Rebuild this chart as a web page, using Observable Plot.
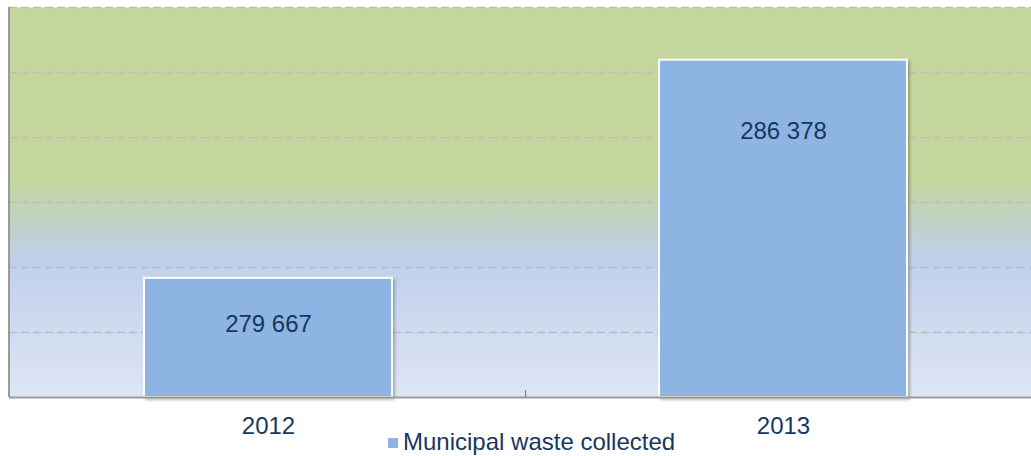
<!DOCTYPE html>
<html>
<head>
<meta charset="utf-8">
<script src="https://cdn.jsdelivr.net/npm/d3@7"></script>
<script src="https://cdn.jsdelivr.net/npm/@observablehq/plot@0.6"></script>
<style>
  html, body { margin: 0; padding: 0; background: #fff; }
  #wrap { position: relative; width: 1031px; height: 456px; overflow: hidden; }
  #legend .sw { position: absolute; left: 388px; top: 438px; width: 10px; height: 10px; background: #8eb4e3; }
  #legend .tx { position: absolute; left: 403px; top: 430px; font: 24px/24px "Liberation Sans", Arial, sans-serif; color: #17375e; white-space: nowrap; }
</style>
</head>
<body>
<div id="wrap"><div id="legend"><span class="sw"></span><span class="tx" id="legendText"></span></div></div>
<script>
const years = ["2012", "2013"];
const values = [279667, 286378];
const seriesName = "Municipal waste collected";
const yTicks = [278000, 280000, 282000, 284000, 286000, 288000];
const yDomain = [276000, 288000];
const labelOffsets = [46, 71];

document.getElementById("legendText").textContent = seriesName;

const data = years.map((y, i) => ({year: y, value: values[i], base: yDomain[0], off: labelOffsets[i]}));
const fmt = v => d3.format(",")(v).replace(/,/g, " ");

const chart = Plot.plot({
  width: 1031,
  height: 456,
  marginLeft: 9,
  marginTop: 7,
  marginBottom: 59,
  marginRight: 0,
  style: {fontFamily: "'Liberation Sans', Arial, sans-serif", background: "transparent", overflow: "visible"},
  x: {domain: years, range: [9, 1041], paddingInner: 0.519, paddingOuter: 0.26, align: 0.5, label: null, axis: null},
  y: {domain: yDomain, label: null, axis: null},
  marks: [
    Plot.frame({fill: "url(#bgGrad)", stroke: null}),
    Plot.gridY(yTicks, {stroke: "#bdbdbd", strokeOpacity: 1, strokeWidth: 1.3, strokeDasharray: "8,4"}),
    Plot.barY(data, {x: "year", y1: "base", y2: "value", fill: "#8eb4e3", stroke: "white", strokeWidth: 2}),
    Plot.ruleY([yDomain[0]], {stroke: "#9a9a9a", strokeWidth: 2}),
    ...data.map(d => Plot.text([d], {x: "year", y: "value", text: dd => fmt(dd.value), dy: d.off, fill: "#17375e", fontSize: 24})),
    Plot.text(data, {x: "year", y: yDomain[0], text: "year", dy: 28.5, fill: "#17375e", fontSize: 24})
  ]
});

const ns = "http://www.w3.org/2000/svg";
const defs = document.createElementNS(ns, "defs");
defs.innerHTML = `<linearGradient id="bgGrad" x1="0" y1="0" x2="0" y2="1">
  <stop offset="0" stop-color="#c4d69d"/>
  <stop offset="0.44" stop-color="#c4d69d"/>
  <stop offset="0.65" stop-color="#bfcfec"/>
  <stop offset="1" stop-color="#dee6f3"/>
</linearGradient>
<filter id="sh" x="-5%" y="-5%" width="115%" height="115%"><feDropShadow dx="2" dy="2" stdDeviation="1.5" flood-color="#000" flood-opacity="0.25"/></filter>`;
chart.insertBefore(defs, chart.firstChild);

const xs = chart.scale("x"), ys = chart.scale("y");
const g = document.createElementNS(ns, "g");
const y0 = ys.apply(yDomain[0]), y1 = ys.apply(yDomain[1]);
const left = 9;
const step = xs.apply(years[1]) - xs.apply(years[0]);
const mid = xs.apply(years[1]) + xs.bandwidth / 2 - step / 2;
g.innerHTML = `<line x1="${left}" x2="${left}" y1="${y1}" y2="${y0}" stroke="#9a9a9a" stroke-width="2"/>
<line x1="${mid}" x2="${mid}" y1="${y0 - 7}" y2="${y0}" stroke="#8a8a8a" stroke-width="1.3"/>`;
chart.appendChild(g);

chart.querySelectorAll("g[aria-label='bar'] rect").forEach(r => r.setAttribute("filter", "url(#sh)"));

chart.style.position = "absolute";
chart.style.left = "0";
chart.style.top = "0";
document.getElementById("wrap").insertBefore(chart, document.getElementById("legend"));
</script>
</body>
</html>
